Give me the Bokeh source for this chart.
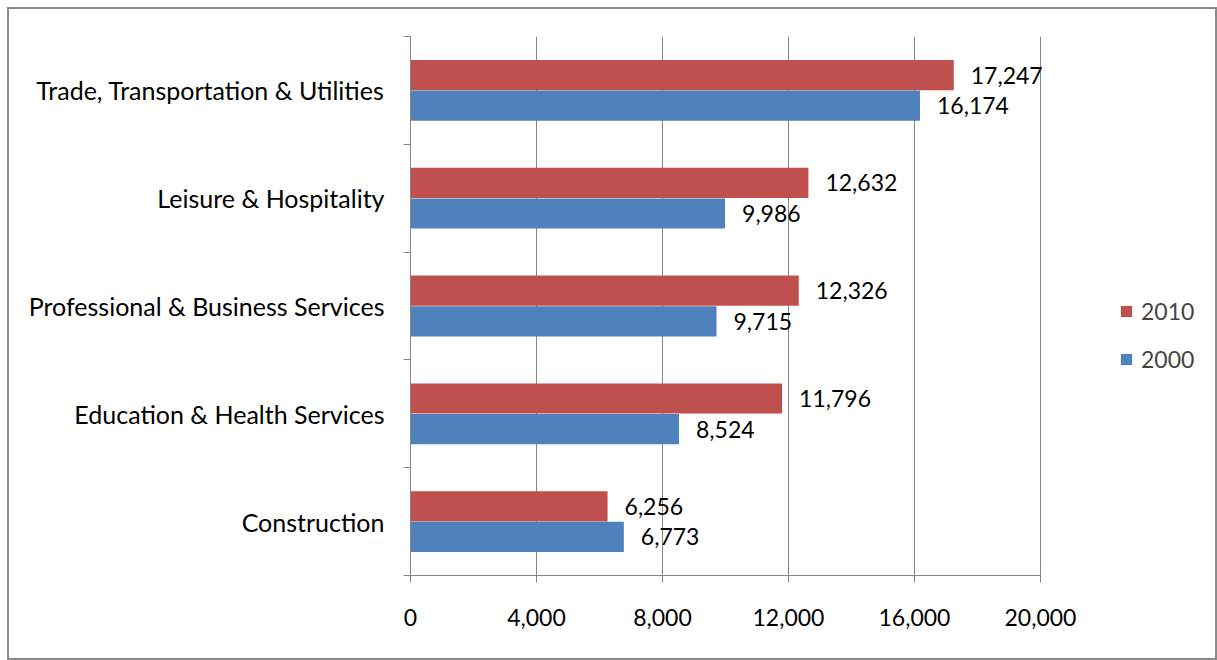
from bokeh.plotting import figure
from bokeh.models import (FixedTicker, NumeralTickFormatter, Legend, LegendItem,
                          ColumnDataSource, Range1d)
from bokeh.core.properties import value
from bokeh.embed import file_html
from bokeh.resources import INLINE

# ---- data (bottom to top) ----
categories = ["Construction", "Education & Health Services",
              "Professional & Business Services", "Leisure & Hospitality",
              "Trade, Transportation & Utilities"]
values_2010 = [6256, 11796, 12326, 12632, 17247]
values_2000 = [6773, 8524, 9715, 9986, 16174]
x_ticks = [0, 4000, 8000, 12000, 16000, 20000]

RED = "#C0504D"
BLUE = "#4F81BD"
GRAY = "#868686"
FONT = "Lato"
FS = "23px"
FS_CAT = "25px"

n = len(categories)
centers = [i + 0.5 for i in range(n)]

# layout: axis region 630 px for 0..20000, frame extended to host the legend
AXIS_PX = 630
FRAME_W = 790
x_max = x_ticks[-1]
x_end = x_max * FRAME_W / AXIS_PX

src10 = ColumnDataSource(dict(y=[c + 0.142 for c in centers], v=values_2010,
                              t=[f"{v:,}" for v in values_2010]))
src00 = ColumnDataSource(dict(y=[c - 0.142 for c in centers], v=values_2000,
                              t=[f"{v:,}" for v in values_2000]))

p = figure(frame_width=FRAME_W, frame_height=539, output_backend="svg",
           toolbar_location=None,
           x_range=Range1d(0, x_end), y_range=Range1d(0, n),
           min_border_left=401, min_border_right=15, min_border_top=27,
           min_border_bottom=83)
p.styles = {"border": "2px solid #898989",
            "margin-left": "7px", "margin-top": "7px"}
p.outline_line_color = None
p.background_fill_color = "white"
p.border_fill_color = "white"

r10 = p.hbar(y="y", right="v", left=0, height=0.28, source=src10,
             fill_color=RED, line_color=None)
r00 = p.hbar(y="y", right="v", left=0, height=0.28, source=src00,
             fill_color=BLUE, line_color=None)

for s in (src10, src00):
    p.text(x="v", y="y", text="t", source=s, x_offset=17,
           text_baseline="middle", text_align="left",
           text_font=value(FONT), text_font_size=FS, text_color="black")

# x axis
xa = p.xaxis[0]
xa.bounds = (0, x_max)
xa.ticker = FixedTicker(ticks=x_ticks)
xa.formatter = NumeralTickFormatter(format="0,0")
xa.axis_line_color = GRAY
xa.major_tick_line_color = GRAY
xa.major_tick_out = 7
xa.major_tick_in = 0
xa.minor_tick_line_color = None
xa.major_label_text_font = FONT
xa.major_label_text_font_size = FS
xa.major_label_text_color = "black"
xa.major_label_standoff = 26

# y axis: labels at band centers, tick marks at band boundaries
ya = p.yaxis[0]
ya.ticker = FixedTicker(ticks=centers, minor_ticks=list(range(n + 1)))
ya.major_label_overrides = {c: lab for c, lab in zip(centers, categories)}
ya.axis_line_color = GRAY
ya.major_tick_line_color = None
ya.major_tick_out = 0
ya.major_tick_in = 0
ya.minor_tick_line_color = GRAY
ya.minor_tick_out = 7
ya.minor_tick_in = 0
ya.major_label_text_font = FONT
ya.major_label_text_font_size = FS_CAT
ya.major_label_text_color = "black"
ya.major_label_standoff = 19

p.xgrid.grid_line_color = GRAY
p.xgrid.ticker = FixedTicker(ticks=x_ticks)
p.ygrid.grid_line_color = None

legend = Legend(items=[LegendItem(label="2010", renderers=[r10]),
                       LegendItem(label="2000", renderers=[r00])],
                location=(709, 202), orientation="vertical")
legend.label_text_font = FONT
legend.label_text_font_size = FS
legend.glyph_width = 14
legend.glyph_height = 14
legend.label_standoff = 8
legend.spacing = 20
legend.padding = 0
legend.margin = 0
legend.border_line_color = None
legend.background_fill_alpha = 0
p.add_layout(legend, "center")

open("out.html", "w").write(file_html(p, INLINE))
